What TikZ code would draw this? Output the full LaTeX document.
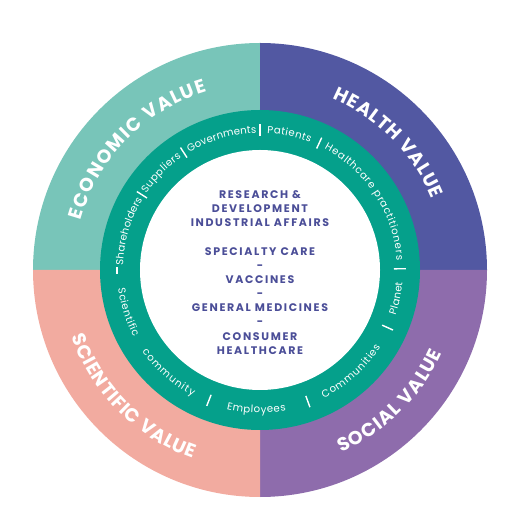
\documentclass[tikz,border=0pt]{standalone}
\usepackage{fontspec}
\usetikzlibrary{decorations.text}
\newfontfamily\hdfont{Poppins}
\newfontfamily\ringfont{Poppins}
\newfontfamily\ctfont{Poppins}[LetterSpace=15]
\definecolor{econ}{HTML}{78C5B9}
\definecolor{health}{HTML}{5258A2}
\definecolor{social}{HTML}{8E6CAC}
\definecolor{scien}{HTML}{F2ABA0}
\definecolor{ring}{HTML}{05A08B}
\definecolor{ctxt}{HTML}{4B4E98}
\tikzset{
  ctr/.style={font=\ctfont\bfseries\fontsize{11}{11}\selectfont, text=ctxt, anchor=base, inner sep=0pt},
  bar/.style={draw=white, line width=1.4pt},
}
\newcommand\RingTop[3]{\path[decorate,decoration={text along path,text={|\ringfont\fontsize{10.2}{10.2}\selectfont\color{white}|#3},text align={fit to path}}] (#1:137pt) arc[start angle=#1,end angle=#2,radius=137pt];}
\newcommand\RingBot[3]{\path[decorate,decoration={text along path,text={|\ringfont\fontsize{10.2}{10.2}\selectfont\color{white}|#3},text align={fit to path}}] (#1:143pt) arc[start angle=#1,end angle=#2,radius=143pt];}
\newcommand\BigTop[3]{\path[decorate,decoration={text along path,text={|\hdfont\bfseries\fontsize{18.8}{18.8}\selectfont\color{white}|#3},text align={fit to path}}] (#1:186pt) arc[start angle=#1,end angle=#2,radius=186pt];}
\newcommand\BigBot[3]{\path[decorate,decoration={text along path,text={|\hdfont\bfseries\fontsize{18.8}{18.8}\selectfont\color{white}|#3},text align={fit to path}}] (#1:200pt) arc[start angle=#1,end angle=#2,radius=200pt];}
\begin{document}
\begin{tikzpicture}[x=1pt,y=1pt]
\useasboundingbox (-260,-251) rectangle (269,270);
% quadrants
\fill[econ] (0,0) -- (180:227pt) arc[start angle=180,end angle=90,radius=227pt] -- cycle;
\fill[health] (0,0) -- (90:227pt) arc[start angle=90,end angle=0,radius=227pt] -- cycle;
\fill[social] (0,0) -- (0:227pt) arc[start angle=0,end angle=-90,radius=227pt] -- cycle;
\fill[scien] (0,0) -- (270:227pt) arc[start angle=270,end angle=180,radius=227pt] -- cycle;
% ring
\fill[ring] (0,0) circle[radius=160pt];
\fill[white] (0,0) circle[radius=120pt];
% outer labels
\BigTop{164.5}{106.5}{ECONOMIC VALUE}
\BigTop{67}{22.5}{HEALTH VALUE}
\BigBot{199.5}{250.5}{SCIENTIFIC VALUE}
\BigBot{294}{335.5}{SOCIAL VALUE}
% ring labels top
\RingTop{178}{149}{Shareholders}
\RingTop{146}{125}{Suppliers}
\RingTop{121}{91.5}{Governments}
\RingTop{87}{68.5}{Patients}
\RingTop{62}{4}{Healthcare practitioners}
% ring labels bottom
\RingBot{187.5}{208}{Scientific}
\RingBot{214.5}{242}{community}
\RingBot{256.5}{280.5}{Employees}
\RingBot{296.5}{327.5}{Communities}
\RingBot{341.5}{355}{Planet}
% separators
\draw[bar] (-143,-4) -- (-143,3);
\foreach \a in {147.5,123,90,65,0.5,248.6,290,335.7}
  \draw[bar] (\a:134pt) -- (\a:146pt);
% centre text
\foreach \yy/\tx [count=\i] in {75/RESEARCH \&, 61/DEVELOPMENT, 47/INDUSTRIAL AFFAIRS, 18/SPECIALTY CARE, 4/-, -10/VACCINES, -24/-, -38/GENERAL MEDICINES, -52/-, -67/CONSUMER, -81/HEALTHCARE}
  \node[ctr] (c\i) at (0,\yy-3.8) {\tx};
\end{tikzpicture}
\end{document}
